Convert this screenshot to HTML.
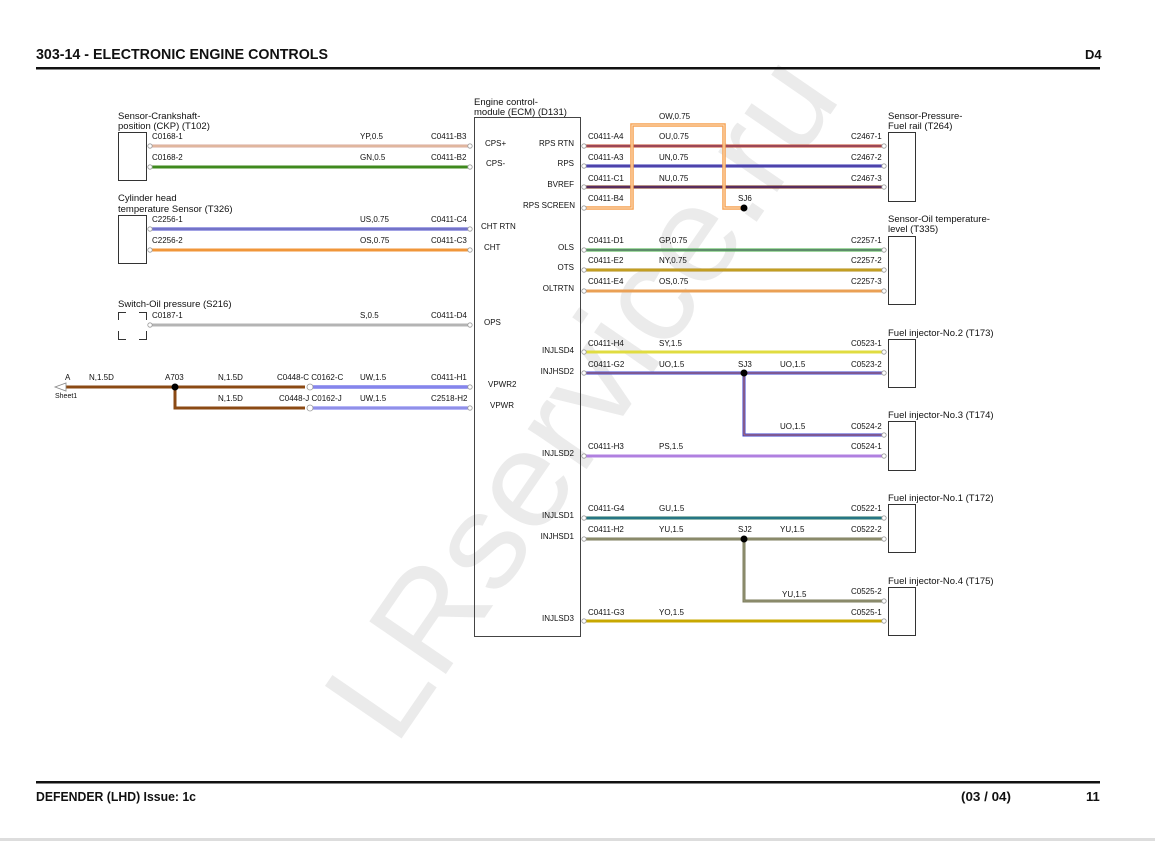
<!DOCTYPE html>
<html><head><meta charset="utf-8"><style>
html,body{margin:0;padding:0;background:#fff;}
svg{display:block;}
text{font-family:"Liberation Sans",sans-serif;}
.s{font-size:8px;fill:#111;}
.m{font-size:9.5px;fill:#111;}
.h{font-size:15px;font-weight:bold;fill:#111;}
.f{font-size:13px;font-weight:bold;fill:#111;}
.c{fill:#fff;stroke:#999;stroke-width:0.8;}
</style></head><body>
<svg width="1155" height="841" viewBox="0 0 1155 841" xmlns="http://www.w3.org/2000/svg">
<rect width="1155" height="841" fill="#fff"/>
<!-- watermark -->
<text x="0" y="0" transform="translate(395,748) rotate(-55.5)" font-size="135" fill="#ebebeb" textLength="790" lengthAdjust="spacingAndGlyphs">LRservice.ru</text>

<!-- header -->
<text x="36" y="59" class="h" textLength="292" lengthAdjust="spacingAndGlyphs">303-14 - ELECTRONIC ENGINE CONTROLS</text>
<text x="1085" y="59" class="f">D4</text>
<rect x="36" y="67" width="1064" height="2.5" fill="#111"/>
<!-- footer -->
<rect x="36" y="781" width="1064" height="2.5" fill="#111"/>
<text x="36" y="801" class="f" textLength="160" lengthAdjust="spacingAndGlyphs">DEFENDER  (LHD) Issue: 1c</text>
<text x="961" y="801" class="f" textLength="50" lengthAdjust="spacingAndGlyphs">(03 / 04)</text>
<text x="1086" y="801" class="f">11</text>
<rect x="0" y="838" width="1155" height="3" fill="#ddd"/>

<!-- ECM -->
<text x="474" y="105" class="m">Engine control-</text>
<text x="474" y="115" class="m">module (ECM) (D131)</text>
<rect x="474.5" y="117.5" width="106" height="519" fill="none" stroke="#444" stroke-width="1"/>
<g class="s">
<text x="485" y="146">CPS+</text><text x="486" y="166">CPS-</text>
<text x="481" y="229">CHT RTN</text><text x="484" y="250">CHT</text>
<text x="484" y="325">OPS</text><text x="488" y="387">VPWR2</text><text x="490" y="408">VPWR</text>
</g>
<g class="s" text-anchor="end">
<text x="574" y="146">RPS RTN</text><text x="574" y="166">RPS</text><text x="574" y="187">BVREF</text>
<text x="575" y="208">RPS SCREEN</text><text x="574" y="250">OLS</text><text x="574" y="270">OTS</text>
<text x="574" y="291">OLTRTN</text><text x="574" y="353">INJLSD4</text><text x="574" y="374">INJHSD2</text>
<text x="574" y="456">INJLSD2</text><text x="574" y="518">INJLSD1</text><text x="574" y="539">INJHSD1</text>
<text x="574" y="621">INJLSD3</text>
</g>

<!-- Left components -->
<text x="118" y="119" class="m">Sensor-Crankshaft-</text>
<text x="118" y="129" class="m">position (CKP) (T102)</text>
<rect x="118.5" y="132.5" width="28" height="48" fill="none" stroke="#333"/>
<text x="118" y="201" class="m">Cylinder head</text>
<text x="118" y="212" class="m">temperature Sensor (T326)</text>
<rect x="118.5" y="215.5" width="28" height="48" fill="none" stroke="#333"/>
<text x="118" y="307" class="m">Switch-Oil pressure (S216)</text>
<path d="M118.5 320 V312.5 H126 M139 312.5 H146.5 V320 M118.5 331 V339.5 H126 M139 339.5 H146.5 V331" fill="none" stroke="#333"/>

<!-- left wires -->
<g stroke-width="3" fill="none">
<line x1="150" y1="146" x2="470" y2="146" stroke="#d9a89c"/>
<line x1="150" y1="146" x2="470" y2="146" stroke="#e6c3a0" stroke-width="1"/>
<line x1="150" y1="167" x2="470" y2="167" stroke="#3f8a1e"/>
<line x1="150" y1="229" x2="470" y2="229" stroke="#4646c8"/>
<line x1="150" y1="229" x2="470" y2="229" stroke="#a0a0c8" stroke-width="1"/>
<line x1="150" y1="250" x2="470" y2="250" stroke="#f0963a"/>
<line x1="150" y1="325" x2="470" y2="325" stroke="#b4b4b4"/>
<path d="M58 387 H305" stroke="#8b4a14"/>
<path d="M175 387 V408 H305" stroke="#8b4a14"/>
<line x1="312" y1="387" x2="470" y2="387" stroke="#3c3ce0"/>
<line x1="312" y1="387" x2="470" y2="387" stroke="#fff" stroke-width="0.8"/>
<line x1="312" y1="408" x2="470" y2="408" stroke="#6c6cf0"/>
<line x1="312" y1="408" x2="470" y2="408" stroke="#ccd" stroke-width="0.8"/>
</g>
<circle cx="175" cy="387" r="3.5" fill="#000"/>
<path d="M55 387 L66 383 L66 391 Z" fill="#fff" stroke="#888" stroke-width="0.8"/>
<g class="c">
<circle cx="150" cy="146" r="2.2"/><circle cx="470" cy="146" r="2.2"/>
<circle cx="150" cy="167" r="2.2"/><circle cx="470" cy="167" r="2.2"/>
<circle cx="150" cy="229" r="2.2"/><circle cx="470" cy="229" r="2.2"/>
<circle cx="150" cy="250" r="2.2"/><circle cx="470" cy="250" r="2.2"/>
<circle cx="150" cy="325" r="2.2"/><circle cx="470" cy="325" r="2.2"/>
<circle cx="470" cy="387" r="2.2"/><circle cx="470" cy="408" r="2.2"/>
<circle cx="310" cy="387" r="3"/><circle cx="310" cy="408" r="3"/>
</g>
<g class="s">
<text x="152" y="139">C0168-1</text><text x="360" y="139">YP,0.5</text><text x="431" y="139">C0411-B3</text>
<text x="152" y="160">C0168-2</text><text x="360" y="160">GN,0.5</text><text x="431" y="160">C0411-B2</text>
<text x="152" y="222">C2256-1</text><text x="360" y="222">US,0.75</text><text x="431" y="222">C0411-C4</text>
<text x="152" y="243">C2256-2</text><text x="360" y="243">OS,0.75</text><text x="431" y="243">C0411-C3</text>
<text x="152" y="318">C0187-1</text><text x="360" y="318">S,0.5</text><text x="431" y="318">C0411-D4</text>
<text x="65" y="380">A</text><text x="89" y="380">N,1.5D</text><text x="165" y="380">A703</text>
<text x="218" y="380">N,1.5D</text><text x="277" y="380">C0448-C C0162-C</text>
<text x="360" y="380">UW,1.5</text><text x="431" y="380">C0411-H1</text>
<text x="55" y="398" font-size="7">Sheet1</text>
<text x="218" y="401">N,1.5D</text><text x="279" y="401">C0448-J C0162-J</text>
<text x="360" y="401">UW,1.5</text><text x="431" y="401">C2518-H2</text>
</g>

<!-- right components -->
<text x="888" y="119" class="m">Sensor-Pressure-</text>
<text x="888" y="129" class="m">Fuel rail (T264)</text>
<rect x="888.5" y="132.5" width="27" height="69" fill="none" stroke="#333"/>
<text x="888" y="222" class="m">Sensor-Oil temperature-</text>
<text x="888" y="232" class="m">level (T335)</text>
<rect x="888.5" y="236.5" width="27" height="68" fill="none" stroke="#333"/>
<text x="888" y="336" class="m">Fuel injector-No.2 (T173)</text>
<rect x="888.5" y="339.5" width="27" height="48" fill="none" stroke="#333"/>
<text x="888" y="418" class="m">Fuel injector-No.3 (T174)</text>
<rect x="888.5" y="421.5" width="27" height="49" fill="none" stroke="#333"/>
<text x="888" y="501" class="m">Fuel injector-No.1 (T172)</text>
<rect x="888.5" y="504.5" width="27" height="48" fill="none" stroke="#333"/>
<text x="888" y="584" class="m">Fuel injector-No.4 (T175)</text>
<rect x="888.5" y="587.5" width="27" height="48" fill="none" stroke="#333"/>

<!-- right wires -->
<g stroke-width="3" fill="none">
<line x1="584" y1="146" x2="884" y2="146" stroke="#c24a2a"/>
<line x1="584" y1="146" x2="884" y2="146" stroke="#6040a0" stroke-width="0.8"/>
<line x1="584" y1="166" x2="884" y2="166" stroke="#3030b0"/>
<line x1="584" y1="166" x2="884" y2="166" stroke="#8060a0" stroke-width="0.8"/>
<line x1="584" y1="187" x2="884" y2="187" stroke="#702a10"/>
<line x1="584" y1="187" x2="884" y2="187" stroke="#3030e0" stroke-width="0.8"/>
<path d="M584 208 H632 V125 H724 V208 H744" stroke="#f5a050" stroke-width="3.5"/>
<path d="M584 208 H632 V125 H724 V208 H744" stroke="#fde0c0" stroke-width="1"/>
<line x1="584" y1="250" x2="884" y2="250" stroke="#40b040"/>
<line x1="584" y1="250" x2="884" y2="250" stroke="#9050b0" stroke-width="0.8"/>
<line x1="584" y1="270" x2="884" y2="270" stroke="#b08a10"/>
<line x1="584" y1="270" x2="884" y2="270" stroke="#e0c040" stroke-width="0.8"/>
<line x1="584" y1="291" x2="884" y2="291" stroke="#eaa055"/>
<line x1="584" y1="352" x2="884" y2="352" stroke="#e0dc40"/>
<path d="M584 373 H884 M744 373 V435 H884" stroke="#3a40d0"/>
<path d="M584 373 H884 M744 373 V435 H884" stroke="#f08030" stroke-width="0.8"/>
<line x1="584" y1="456" x2="884" y2="456" stroke="#b080e0"/>
<line x1="584" y1="518" x2="884" y2="518" stroke="#207060"/>
<line x1="584" y1="518" x2="884" y2="518" stroke="#3080c0" stroke-width="0.8"/>
<path d="M584 539 H884 M744 539 V601 H884" stroke="#7c7c5c"/>
<path d="M584 539 H884 M744 539 V601 H884" stroke="#a0a080" stroke-width="0.8"/>
<line x1="584" y1="621" x2="884" y2="621" stroke="#c8a800"/>
</g>
<circle cx="744" cy="208" r="3.5" fill="#000"/>
<circle cx="744" cy="373" r="3.5" fill="#000"/>
<circle cx="744" cy="539" r="3.5" fill="#000"/>
<g class="c">
<circle cx="584" cy="146" r="2.2"/><circle cx="884" cy="146" r="2.2"/>
<circle cx="584" cy="166" r="2.2"/><circle cx="884" cy="166" r="2.2"/>
<circle cx="584" cy="187" r="2.2"/><circle cx="884" cy="187" r="2.2"/>
<circle cx="584" cy="208" r="2.2"/>
<circle cx="584" cy="250" r="2.2"/><circle cx="884" cy="250" r="2.2"/>
<circle cx="584" cy="270" r="2.2"/><circle cx="884" cy="270" r="2.2"/>
<circle cx="584" cy="291" r="2.2"/><circle cx="884" cy="291" r="2.2"/>
<circle cx="584" cy="352" r="2.2"/><circle cx="884" cy="352" r="2.2"/>
<circle cx="584" cy="373" r="2.2"/><circle cx="884" cy="373" r="2.2"/>
<circle cx="884" cy="435" r="2.2"/>
<circle cx="584" cy="456" r="2.2"/><circle cx="884" cy="456" r="2.2"/>
<circle cx="584" cy="518" r="2.2"/><circle cx="884" cy="518" r="2.2"/>
<circle cx="584" cy="539" r="2.2"/><circle cx="884" cy="539" r="2.2"/>
<circle cx="884" cy="601" r="2.2"/>
<circle cx="584" cy="621" r="2.2"/><circle cx="884" cy="621" r="2.2"/>
</g>
<g class="s">
<text x="659" y="119">OW,0.75</text>
<text x="588" y="139">C0411-A4</text><text x="659" y="139">OU,0.75</text><text x="851" y="139">C2467-1</text>
<text x="588" y="160">C0411-A3</text><text x="659" y="160">UN,0.75</text><text x="851" y="160">C2467-2</text>
<text x="588" y="181">C0411-C1</text><text x="659" y="181">NU,0.75</text><text x="851" y="181">C2467-3</text>
<text x="588" y="201">C0411-B4</text><text x="738" y="201">SJ6</text>
<text x="588" y="243">C0411-D1</text><text x="659" y="243">GP,0.75</text><text x="851" y="243">C2257-1</text>
<text x="588" y="263">C0411-E2</text><text x="659" y="263">NY,0.75</text><text x="851" y="263">C2257-2</text>
<text x="588" y="284">C0411-E4</text><text x="659" y="284">OS,0.75</text><text x="851" y="284">C2257-3</text>
<text x="588" y="346">C0411-H4</text><text x="659" y="346">SY,1.5</text><text x="851" y="346">C0523-1</text>
<text x="588" y="367">C0411-G2</text><text x="659" y="367">UO,1.5</text><text x="738" y="367">SJ3</text><text x="780" y="367">UO,1.5</text><text x="851" y="367">C0523-2</text>
<text x="780" y="429">UO,1.5</text><text x="851" y="429">C0524-2</text>
<text x="588" y="449">C0411-H3</text><text x="659" y="449">PS,1.5</text><text x="851" y="449">C0524-1</text>
<text x="588" y="511">C0411-G4</text><text x="659" y="511">GU,1.5</text><text x="851" y="511">C0522-1</text>
<text x="588" y="532">C0411-H2</text><text x="659" y="532">YU,1.5</text><text x="738" y="532">SJ2</text><text x="780" y="532">YU,1.5</text><text x="851" y="532">C0522-2</text>
<text x="782" y="597">YU,1.5</text><text x="851" y="594">C0525-2</text>
<text x="588" y="615">C0411-G3</text><text x="659" y="615">YO,1.5</text><text x="851" y="615">C0525-1</text>
</g>
</svg>
</body></html>
